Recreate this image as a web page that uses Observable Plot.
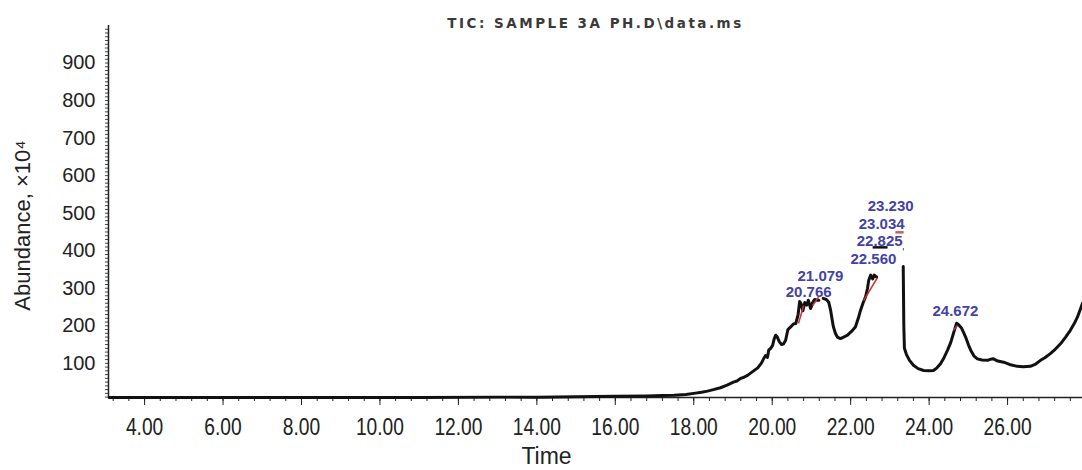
<!DOCTYPE html>
<html><head><meta charset="utf-8">
<script src="https://cdn.jsdelivr.net/npm/d3@7"></script>
<script src="https://cdn.jsdelivr.net/npm/@observablehq/plot@0.6"></script>
<style>body{margin:0;background:#fff;overflow:hidden}</style>
</head><body><div id="chart"></div>
<script>
// Retention time (min) of the TIC trace; null = gap in the trace
const times = [3.10,5.0,8.0,11.0,13.0,14.0,15.0,16.0,16.8,17.2,17.5,17.8,18.0,18.2,18.35,18.5,18.68,18.85,19.01,19.1,19.2,19.28,19.37,19.5,19.63,19.72,19.78,19.83,19.88,19.91,19.96,20.01,20.05,20.09,20.13,20.18,20.24,20.29,20.34,20.40,20.47,20.54,20.60,20.66,20.70,20.74,20.78,20.83,20.88,20.92,20.98,21.03,21.08,21.14,21.19,21.24,21.30,21.38,21.44,21.49,21.53,21.56,21.61,21.66,21.74,21.82,21.92,22.02,22.12,22.20,22.25,22.32,22.38,22.43,22.46,22.51,22.56,22.60,22.66,22.90,23.34,23.355,23.37,23.42,23.50,23.60,23.72,23.86,24.00,24.11,24.20,24.29,24.38,24.47,24.55,24.62,24.70,24.75,24.82,24.88,24.93,25.00,25.06,25.14,25.23,25.35,25.49,25.57,25.64,25.75,25.90,26.05,26.25,26.40,26.58,26.70,26.84,26.95,27.09,27.22,27.35,27.48,27.60,27.70,27.78,27.85,27.91];
// Abundance (x10^4)
const abundance = [9,9,9,9,10,10,11,12,13,14,15,17,20,23,26,30,35,42,50,53,60,63,68,78,88,100,112,121,116,135,140,148,165,175,170,158,150,152,161,190,197,205,206,230,265,258,240,262,255,268,246,262,270,268,268,null,273,270,263,241,215,197,180,170,166,170,175,185,197,222,241,262,277,300,321,335,325,335,330,null,358,200,140,124,108,95,86,81,80,81,88,99,115,135,155,180,207,203,195,182,170,150,135,120,112,109,108,111,112,106,103,97,92,91,92,97,108,115,126,138,152,170,188,206,223,243,260];

// Peak annotations
const peakLabels = ["20.766","21.079","22.560","22.825","23.034","23.230","24.672"];
const labelTime  = [20.93, 21.23, 22.58, 22.74, 22.79, 23.02, 24.67];
const labelLevel = [289, 332, 378, 425, 471, 518, 238];

// Integration baseline marks (red) and off-scale peak marks
const integStartT = [20.67, 21.03, 22.33, 24.62];
const integStartV = [206, 254, 267, 188];
const integEndT   = [20.80, 21.18, 22.68, 24.72];
const integEndV   = [254, 276, 328, 201];
const dashStartT = [22.56, 23.14, 23.33];
const dashEndT   = [22.94, 23.35, 23.36];
const dashLevel  = [409, 449, 404];
const dashColor  = ["#111111", "#c86060", "#777777"];

const xTickValues = [4,6,8,10,12,14,16,18,20,22,24,26];
const yTickValues = [100,200,300,400,500,600,700,800,900];
const xMinorTicks = d3.range(3.2, 27.9, 0.4);
const yMinorTicks = d3.range(10, 1000, 10);

const titleText = "TIC: SAMPLE 3A PH.D\\data.ms";
const xLabel = "Time";
const yLabel = "Abundance, ×10⁴";

const trace = times.map((t, i) => ({t, v: abundance[i]}));
const peaks = peakLabels.map((s, i) => ({s, t: labelTime[i], v: labelLevel[i]}));
const integ = integStartT.map((t, i) => ({t1: t, v1: integStartV[i], t2: integEndT[i], v2: integEndV[i]}));
const dashes = dashStartT.map((t, i) => ({t1: t, t2: dashEndT[i], v: dashLevel[i], c: dashColor[i]}));

const XMIN = 3.08, XMAX = 27.91, YMIN = 9, YMAX = 1000;

const chart = Plot.plot({
  width: 1082, height: 470,
  marginLeft: 108, marginRight: 0, marginTop: 25, marginBottom: 73,
  x: {domain: [XMIN, XMAX]},
  y: {domain: [YMIN, YMAX]},
  style: {fontFamily: "'Liberation Sans', Arial, sans-serif", background: "#fff", color: "#222"},
  marks: [
    Plot.axisX(xMinorTicks, {tickSize: 4, tickFormat: () => "", label: null, stroke: "#222"}),
    Plot.axisX(xTickValues, {tickSize: 8, tickPadding: 12, tickFormat: d => d.toFixed(2), label: null, stroke: "#222",
      fontSize: 24}),
    Plot.axisY(yMinorTicks, {tickSize: 3, tickFormat: () => "", label: null, stroke: "#444"}),
    Plot.axisY(yTickValues, {tickSize: 0, tickPadding: 13, label: null, fontSize: 20}),
    Plot.ruleY([YMIN], {stroke: "#222", strokeWidth: 1.5}),
    Plot.ruleX([XMIN], {stroke: "#222", strokeWidth: 1.5}),
    Plot.line(trace, {x: "t", y: "v", stroke: "#111", strokeWidth: 3, strokeLinejoin: "round"}),
    Plot.link(integ, {x1: "t1", y1: "v1", x2: "t2", y2: "v2", stroke: "#d03030", strokeWidth: 1.5}),
    Plot.link(dashes, {x1: "t1", y1: "v", x2: "t2", y2: "v", stroke: "c", strokeWidth: 2.5}),
    Plot.text(peaks, {x: "t", y: "v", text: "s", fill: "#4343a3", fontSize: 15, fontWeight: "bold"}),
    Plot.text([titleText], {frameAnchor: "top", dy: -7, fill: "#3a3a3a", fontSize: 13.5, fontWeight: "bold",
      fontFamily: "'DejaVu Sans', sans-serif"}),
    Plot.text([xLabel], {frameAnchor: "bottom", dx: -49, dy: 66, fill: "#222", fontSize: 23}),
    Plot.text([yLabel], {frameAnchor: "left", textAnchor: "middle", rotate: -90, dx: -86, dy: 14, fill: "#222", fontSize: 22})
  ]
});
document.getElementById("chart").appendChild(chart);
d3.select(chart).selectAll("text").filter(function() { return this.textContent === titleText; })
  .style("letter-spacing", "2.5px");
// condense the x tick labels horizontally, as in the reference
d3.select(chart).selectAll("text").filter(function() { return /^\d+\.00$/.test(this.textContent); })
  .each(function() {
    const el = d3.select(this);
    const tr = el.attr("transform") || "";
    el.attr("transform", tr + " scale(0.8,1)");
    const x = +el.attr("x");
    if (x) el.attr("x", x / 0.8);
  });
</script>
</body></html>
